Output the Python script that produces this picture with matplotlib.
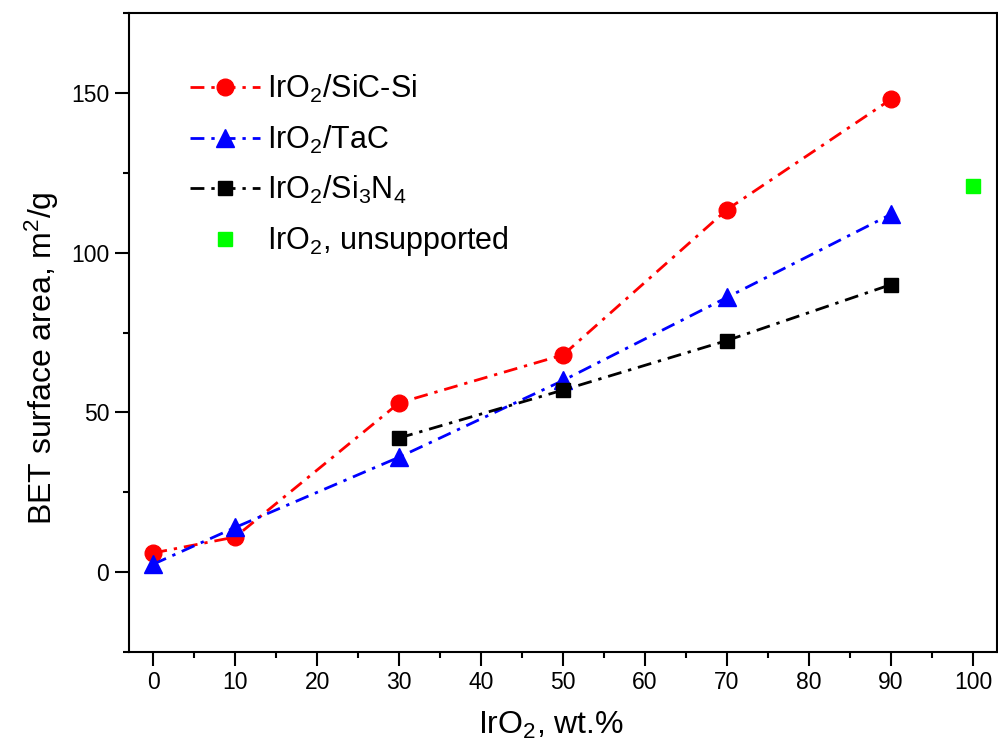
import matplotlib
matplotlib.use("Agg")
import matplotlib.pyplot as plt
from matplotlib.ticker import MultipleLocator

plt.rcParams['font.family'] = ['Liberation Sans', 'DejaVu Sans']
plt.rcParams['mathtext.fontset'] = 'custom'
plt.rcParams['mathtext.rm'] = 'Liberation Sans'
plt.rcParams['mathtext.it'] = 'Liberation Sans'

x_sic = [0, 10, 30, 50, 70, 90]
y_sic = [6, 11, 53, 68, 113.5, 148]
x_tac = [0, 10, 30, 50, 70, 90]
y_tac = [2.5, 14, 36, 60, 86, 112]
x_sin = [30, 50, 70, 90]
y_sin = [42, 57, 72.5, 90]
x_uns = [100]
y_uns = [121]

labels = [r'IrO$_2$/SiC-Si', r'IrO$_2$/TaC', r'IrO$_2$/Si$_3$N$_4$', r'IrO$_2$, unsupported']

fig = plt.figure(figsize=(9.98, 7.49), dpi=100)
ax = fig.add_axes([0.129, 0.1295, 0.8697, 0.8531])

ls = (0, (5, 2.5, 1.2, 2.5))
ax.plot(x_sic, y_sic, color='#ff0000', ls=ls, lw=2, marker='o', ms=12, label=labels[0])
ax.plot(x_tac, y_tac, color='#0000ff', ls=ls, lw=2, marker='^', ms=13.5, label=labels[1])
ax.plot(x_sin, y_sin, color='black', ls=ls, lw=2, marker='s', ms=10.5, label=labels[2])
ax.plot(x_uns, y_uns, color='#00ff00', ls='none', marker='s', ms=10.5, label=labels[3])

ax.set_xlim(-3.0, 102.9)
ax.set_ylim(-25, 175)
ax.xaxis.set_major_locator(MultipleLocator(10))
ax.xaxis.set_minor_locator(MultipleLocator(5))
ax.yaxis.set_major_locator(MultipleLocator(50))
ax.yaxis.set_minor_locator(MultipleLocator(25))
ax.tick_params(which='major', direction='out', length=10, width=1.5, labelsize=16.5, pad=4)
ax.tick_params(which='minor', direction='out', length=4.5, width=1.5)
for s in ax.spines.values():
    s.set_linewidth(1.5)

ax.set_xlabel(r'IrO$_2$, wt.%', fontsize=23)
ax.set_ylabel(r'BET surface area, m$^2$/g', fontsize=23)
ax.xaxis.set_label_coords(0.486, -0.09)
ax.yaxis.set_label_coords(-0.078, 0.46)

ax.legend(loc='upper left', bbox_to_anchor=(0.056, 0.925), frameon=False, fontsize=22,
          handlelength=2.3, handletextpad=0.25, labelspacing=0.6, borderaxespad=0)

fig.savefig('out.png', dpi=100)
